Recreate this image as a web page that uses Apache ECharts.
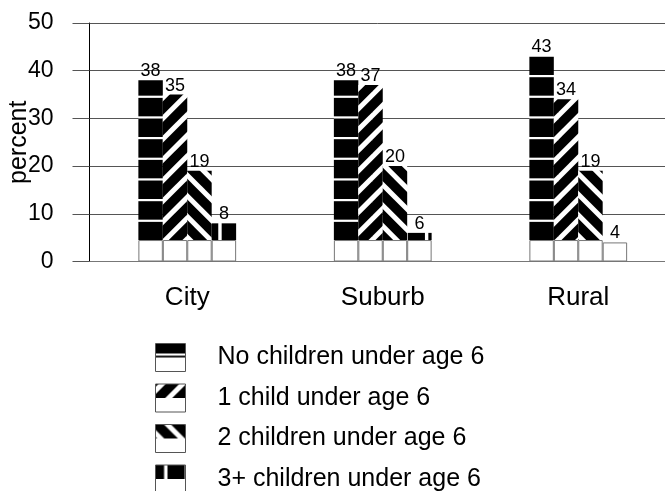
<!DOCTYPE html>
<html><head><meta charset="utf-8">
<script src="https://cdn.jsdelivr.net/npm/echarts@6/dist/echarts.min.js"></script>
<style>html,body{margin:0;padding:0;background:#fff}#c{width:665px;height:491px}</style>
</head><body><div id="c"></div>
<script>
// ---- data ----
const categories = ['City', 'Suburb', 'Rural'];
const seriesNames = ['No children under age 6', '1 child under age 6', '2 children under age 6', '3+ children under age 6'];
const noChildren = [38, 38, 43];
const oneChild = [35, 37, 34];
const twoChildren = [19, 20, 19];
const threePlus = [8, 6, 4];
const yTicks = [0, 10, 20, 30, 40, 50];
const allValues = [noChildren, oneChild, twoChildren, threePlus];

// ---- styling helpers ----
const FONT = 'Liberation Sans, Arial, sans-serif';
const BASE_H = 4.5; // white foot of every bar (style only)
const P = 62 / 3;

function makeTile(kind) {
  const c = document.createElement('canvas'); c.width = 62; c.height = 62;
  const g = c.getContext('2d');
  g.fillStyle = '#000'; g.fillRect(0, 0, 62, 62);
  g.fillStyle = '#fff'; g.strokeStyle = '#fff';
  if (kind === 0) {
    for (let k = 0; k < 3; k++) g.fillRect(0, 13 + k * P, 62, 2.2);
  } else if (kind === 1) {
    g.lineWidth = 5;
    for (let k = -6; k <= 6; k++) { const o = 12.6 + k * P; g.beginPath(); g.moveTo(o - 8, 70); g.lineTo(o + 70, -8); g.stroke(); }
  } else if (kind === 2) {
    g.lineWidth = 5;
    for (let k = -6; k <= 6; k++) { const o = 12 + k * P; g.beginPath(); g.moveTo(o - 8, -8); g.lineTo(o + 70, 70); g.stroke(); }
  } else {
    for (let k = -1; k < 3; k++) g.fillRect(11.6 + k * P, 0, 3.4, 62);
  }
  return c;
}
function makeLegendIcon(kind) {
  const tile = makeTile(kind);
  const c = document.createElement('canvas'); c.width = 30; c.height = 28;
  const g = c.getContext('2d');
  g.fillStyle = '#fff'; g.fillRect(0, 0, 30, 28);
  g.drawImage(tile, 3, 3, 30, 14, 0, 0, 30, 14);
  return c;
}
const tiles = [0, 1, 2, 3].map(makeTile);
const legendIcons = [0, 1, 2, 3].map(makeLegendIcon);

const series = [];
allValues.forEach((vals, i) => {
  series.push({
    name: '_base' + i, type: 'bar', stack: 's' + i,
    data: vals.map(v => Math.min(v, BASE_H)),
    itemStyle: { color: '#fff', borderColor: '#777', borderWidth: 1 },
    silent: true
  });
  series.push({
    name: seriesNames[i], type: 'bar', stack: 's' + i,
    data: vals.map(v => v - Math.min(v, BASE_H)),
    itemStyle: { color: { image: tiles[i], repeat: 'repeat' } },
    label: {
      show: true, position: 'top', distance: 0,
      formatter: p => String(vals[p.dataIndex]),
      color: '#000', fontFamily: FONT, fontSize: 18
    }
  });
});

const chart = echarts.init(document.getElementById('c'), null, { renderer: 'canvas' });
chart.setOption({
  animation: false,
  backgroundColor: '#fff',
  grid: { left: 89.5, right: -11, top: 23, bottom: 229.5, outerBoundsMode: 'none', containLabel: false },
  legend: {
    orient: 'vertical', left: 155, top: 343, height: 200, padding: 0,
    icon: 'rect', itemWidth: 30, itemHeight: 28, itemGap: 11.5,
    data: seriesNames.map((n, i) => ({ name: n, itemStyle: { color: { image: legendIcons[i], repeat: 'no-repeat' }, borderColor: '#555', borderWidth: 1 } })),
    textStyle: { color: '#000', fontSize: 25, fontFamily: FONT, padding: [0, 0, 0, 27] },
    selectedMode: false
  },
  xAxis: {
    type: 'category', data: categories,
    axisLine: { lineStyle: { color: '#777', width: 1 } },
    axisTick: { alignWithLabel: true, length: 15, lineStyle: { color: '#555' } },
    axisLabel: { color: '#000', fontSize: 26, fontFamily: FONT, margin: 23 },
    splitLine: { show: false }
  },
  yAxis: {
    type: 'value', min: yTicks[0], max: yTicks[yTicks.length - 1], interval: 10,
    name: 'percent', nameLocation: 'middle', nameGap: 58, nameMoveOverlap: false,
    nameTextStyle: { color: '#000', fontSize: 25, fontFamily: FONT },
    axisLine: { show: true, lineStyle: { color: '#000', width: 1 } },
    axisTick: { show: true, length: 17, lineStyle: { color: '#555' } },
    axisLabel: { color: '#000', fontSize: 23, fontFamily: FONT, margin: 36 },
    splitLine: { show: true, lineStyle: { color: '#555', width: 1 } }
  },
  series: series.map(s => Object.assign({ barGap: '0%', barCategoryGap: '50%' }, s))
});
</script>
</body></html>
